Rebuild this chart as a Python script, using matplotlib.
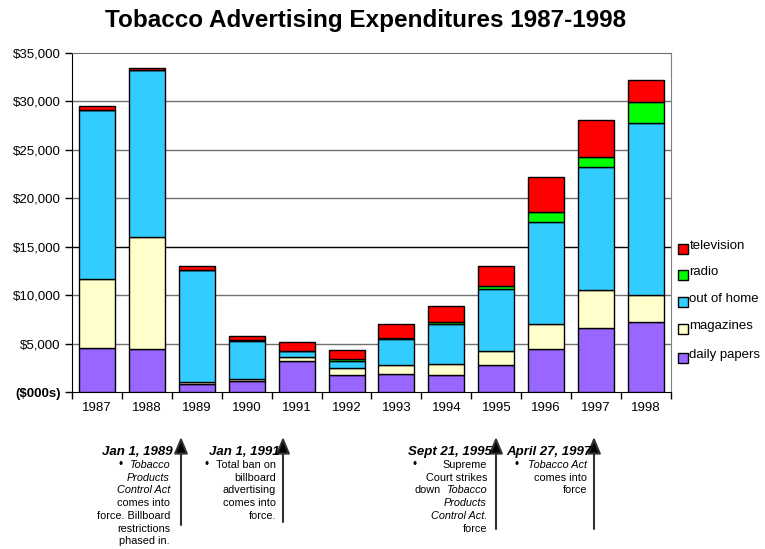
import matplotlib
matplotlib.use("Agg")
import matplotlib.pyplot as plt
import numpy as np
from matplotlib.patches import Rectangle, ArrowStyle

plt.rcParams['font.family'] = ['Liberation Sans', 'DejaVu Sans']

years = ['1987', '1988', '1989', '1990', '1991', '1992',
         '1993', '1994', '1995', '1996', '1997', '1998']
series_names = ['daily papers', 'magazines', 'out of home', 'radio', 'television']
daily_papers = [4540, 4440, 860, 1100, 3235, 1790, 1890, 1720, 2790, 4440, 6605, 7190]
magazines = [7090, 11560, 170, 240, 410, 690, 895, 1205, 1480, 2580, 3960, 2790]
out_of_home = [17480, 17245, 11560, 3925, 585, 755, 2650, 4060, 6330, 10495, 12630, 17825]
radio = [0, 0, 0, 85, 0, 170, 140, 240, 345, 1100, 1030, 2135]
television = [450, 205, 410, 465, 965, 965, 1445, 1685, 2065, 3580, 3855, 2235]
colors = ['#9966FF', '#FFFFCC', '#33CCFF', '#00FF00', '#FF0000']
yticks = [0, 5000, 10000, 15000, 20000, 25000, 30000, 35000]

events = [
    dict(date='Jan 1, 1989', lines=[('Tobacco', True), ('Products', True), ('Control Act', True),
                                   ('comes into', False), ('force. Billboard', False),
                                   ('restrictions', False), ('phased in.', False)]),
    dict(date='Jan 1, 1991', lines=[('Total ban on', False), ('billboard', False), ('advertising', False),
                                   ('comes into', False), ('force.', False)]),
    dict(date='Sept 21, 1995', lines=[('Supreme', False), ('Court strikes', False), ('Tobacco', True),
                                     ('Products', True), ('Control Act.', True), ('force', False)]),
    dict(date='April 27, 1997', lines=[('Tobacco Act', True), ('comes into', False), ('force', False)]),
]

W, H = 765, 549
fig = plt.figure(figsize=(W / 100, H / 100), dpi=100)
L, R, T, B = 72, 671, 53, 392
ax = fig.add_axes([L / W, 1 - B / H, (R - L) / W, (B - T) / H])

x = np.arange(len(years))
data = [daily_papers, magazines, out_of_home, radio, television]
bottom = np.zeros(len(years))
for vals, c, name in zip(data, colors, series_names):
    v = np.array(vals, dtype=float)
    ax.bar(x, v, bottom=bottom, width=0.72, color=c, edgecolor='black', linewidth=1, label=name, zorder=3)
    bottom += v

ax.set_xlim(-0.5, len(years) - 0.5)
ax.set_ylim(0, 35000)
ax.set_yticks(yticks)
ax.set_yticklabels(['($000s)'] + ['${:,}'.format(v) for v in yticks[1:]])
ax.get_yticklabels()[0].set_fontweight('bold')
ax.set_xticks(x)
ax.set_xticklabels(years)
ax.set_xticks(np.arange(-0.5, len(years), 1.0), minor=True)
ax.tick_params(axis='x', which='major', length=0, labelsize=9.5, pad=7)
ax.tick_params(axis='x', which='minor', length=5, width=1, direction='out')
ax.tick_params(axis='y', length=5, width=1, direction='out', labelsize=9.5, pad=3)
for yv in yticks[1:-1]:
    ax.axhline(yv, color='black' if yv == 15000 else '#707070', lw=1, zorder=1)
ax.spines['left'].set_color('black')
ax.spines['bottom'].set_color('black')
ax.spines['right'].set_color('#808080')
ax.spines['top'].set_color('#707070')

fig.text(365.5 / W, 1 - 21 / H, 'Tobacco Advertising Expenditures 1987-1998',
         ha='center', va='center', fontsize=17.5, fontweight='bold')

# overlay in pixel coords
ov = fig.add_axes([0, 0, 1, 1])
ov.set_xlim(0, W)
ov.set_ylim(H, 0)
ov.axis('off')

# legend
leg_y = [358, 329, 302, 275, 249]
for name, c, yy in zip(series_names, colors, leg_y):
    ov.add_patch(Rectangle((678, yy - 5), 10, 10, facecolor=c, edgecolor='black', lw=1))
    ov.text(689.5, yy - 3, name, fontsize=9.5, va='center', ha='left')

# annotations
arrow_x = [181, 283, 496, 594]
arrow_bottom = [525, 522, 529, 529]
date_right = [173, 280, 492, 592]
text_right = [170, 276, 487, 587]
bullet_x = [121, 207, 415, 517]
for i, ev in enumerate(events):
    ov.annotate('', xy=(arrow_x[i], 437), xytext=(arrow_x[i], arrow_bottom[i]),
                arrowprops=dict(arrowstyle=ArrowStyle('-|>', head_length=1.0, head_width=0.42),
                                mutation_scale=10, lw=1.5, color='#303030', fc='black', shrinkA=0, shrinkB=0))
    ov.text(date_right[i], 452, ev['date'], ha='right', va='center', fontsize=9.5,
            fontweight='bold', fontstyle='italic')
    ov.text(bullet_x[i], 465, '\u2022', ha='center', va='center', fontsize=8.5)
    for j, (line, ital) in enumerate(ev['lines']):
        yy = 465 + j * 12.7
        ov.text(text_right[i], yy, line, ha='right', va='center', fontsize=7.8,
                fontstyle='italic' if ital else 'normal')
        if ev['date'].startswith('Sept') and line == 'Tobacco':
            ov.text(415, yy, 'down', ha='left', va='center', fontsize=7.8)

fig.savefig('out.png', dpi=100)
